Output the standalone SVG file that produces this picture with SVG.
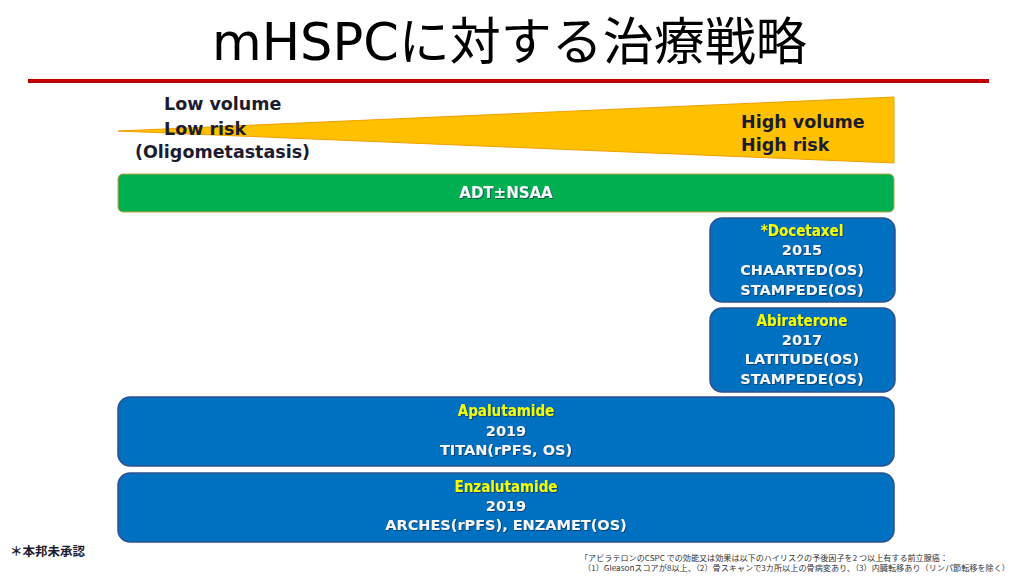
<svg xmlns="http://www.w3.org/2000/svg" width="1017" height="576" viewBox="0 0 1017 576">
<defs>
<filter id="sh" x="-5%" y="-20%" width="110%" height="150%">
<feDropShadow dx="0.8" dy="0.8" stdDeviation="0.4" flood-color="#0a1a3a" flood-opacity="0.7"/>
</filter>
<style>
.title{font-family:"DejaVu Sans","Noto Sans CJK JP",sans-serif;font-size:51px;fill:#000;}
.lbl{font-family:"DejaVu Sans","Noto Sans CJK JP",sans-serif;font-size:17.5px;font-weight:bold;fill:#1c1c30;}
.box{fill:#0070C0;stroke:#2F528F;stroke-width:1.5;}
.hd{font-family:"DejaVu Sans Condensed","DejaVu Sans",sans-serif;font-stretch:condensed;font-size:15px;font-weight:bold;fill:#F2FF00;text-anchor:middle;filter:url(#sh);}
.wt{font-family:"DejaVu Sans","Noto Sans CJK JP",sans-serif;font-size:14.5px;font-weight:bold;fill:#f4f6fa;text-anchor:middle;filter:url(#sh);}
.fn{font-family:"Noto Sans CJK JP",sans-serif;font-size:7.7px;fill:#333;}
</style>
</defs>
<rect width="1017" height="576" fill="#fff"/>
<g id="title">
<text class="title" x="212" y="60">mHSPCに対する治療戦略</text>
<rect x="28" y="79" width="961" height="4" fill="#C00000"/>
</g>
<g id="wedge">
<polygon points="118,131 894,97 894,163" fill="#FFC000" stroke="#F0A000" stroke-width="1"/>
<text class="lbl" x="164" y="110">Low volume</text>
<text class="lbl" x="164" y="135">Low risk</text>
<text class="lbl" x="135" y="158">(Oligometastasis)</text>
<text class="lbl" x="741" y="128">High volume</text>
<text class="lbl" x="741" y="151">High risk</text>
</g>
<g id="adt">
<rect x="118" y="174" width="776" height="38" rx="5" fill="#00B050" stroke="#C8A040" stroke-width="1"/>
<text class="wt" x="506" y="198" style="font-size:15px">ADT±NSAA</text>
</g>
<g id="docetaxel">
<rect class="box" x="710" y="218" width="185" height="84" rx="12"/>
<text class="hd" x="802" y="236">*Docetaxel</text>
<text class="wt" x="802" y="255">2015</text>
<text class="wt" x="802" y="275">CHAARTED(OS)</text>
<text class="wt" x="802" y="295">STAMPEDE(OS)</text>
</g>
<g id="abiraterone">
<rect class="box" x="710" y="308" width="185" height="84" rx="12"/>
<text class="hd" x="802" y="326">Abiraterone</text>
<text class="wt" x="802" y="345">2017</text>
<text class="wt" x="802" y="364">LATITUDE(OS)</text>
<text class="wt" x="802" y="384">STAMPEDE(OS)</text>
</g>
<g id="apalutamide">
<rect class="box" x="118" y="397" width="776" height="69" rx="12"/>
<text class="hd" x="506" y="416">Apalutamide</text>
<text class="wt" x="506" y="436">2019</text>
<text class="wt" x="506" y="455">TITAN(rPFS, OS)</text>
</g>
<g id="enzalutamide">
<rect class="box" x="118" y="473" width="776" height="69" rx="12"/>
<text class="hd" x="506" y="492">Enzalutamide</text>
<text class="wt" x="506" y="511">2019</text>
<text class="wt" x="506" y="530">ARCHES(rPFS), ENZAMET(OS)</text>
</g>
<g id="connectors"></g>
<g id="notes">
<text x="10" y="556" style="font-family:'Noto Sans CJK JP',sans-serif;font-size:12.5px;font-weight:bold;fill:#1c1c30">＊本邦未承認</text>
<text class="fn" x="580" y="561" textLength="368" lengthAdjust="spacingAndGlyphs">「アビラテロンのCSPC での効能又は効果は以下のハイリスクの予後因子を2 つ以上有する前立腺癌：</text>
<text class="fn" x="583" y="571" textLength="427" lengthAdjust="spacingAndGlyphs">（1）Gleasonスコアが8以上、（2）骨スキャンで3カ所以上の骨病変あり、（3）内臓転移あり（リンパ節転移を除く）</text>
</g>
</svg>
